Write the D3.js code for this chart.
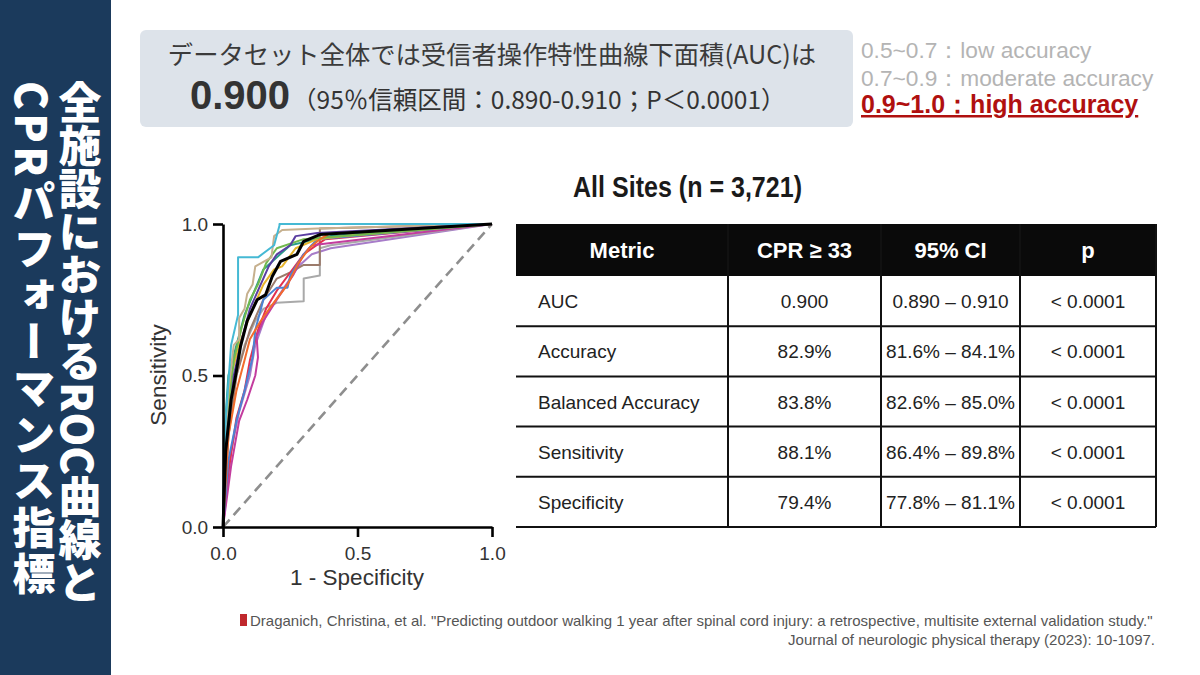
<!DOCTYPE html>
<html>
<head>
<meta charset="utf-8">
<script src="https://cdn.jsdelivr.net/npm/d3@7"></script>
<style>
  html, body { margin: 0; padding: 0; background: #fff; }
  svg { display: block; }
</style>
</head>
<body>
<svg id="canvas" width="1200" height="675"></svg>
<script>
// ---- data ----
let sideTitle = ['全施設におけるROC曲線と', 'CPRパフォーマンス指標']
let headline = 'データセット全体では受信者操作特性曲線下面積(AUC)は'
let aucValue = '0.900'
let aucDetail = '（95％信頼区間：0.890-0.910；P＜0.0001）'
let accuracyBands = ['0.5~0.7：low accuracy', '0.7~0.9：moderate accuracy', '0.9~1.0：high accuracy']
let tableTitle = 'All Sites (n = 3,721)'

let columns = ['Metric', 'CPR ≥ 33', '95% CI', 'p']
let metrics = ['AUC', 'Accuracy', 'Balanced Accuracy', 'Sensitivity', 'Specificity']
let cprValues = ['0.900', '82.9%', '83.8%', '88.1%', '79.4%']
let ciValues = ['0.890 – 0.910', '81.6% – 84.1%', '82.6% – 85.0%', '86.4% – 89.8%', '77.8% – 81.1%']
let pValues = ['< 0.0001', '< 0.0001', '< 0.0001', '< 0.0001', '< 0.0001']

let axisTicks = [0, 0.5, 1]

// one ROC curve per site: [1 - specificity, sensitivity]
let siteCyan = [[0,0],[0.01,0.35],[0.03,0.6],[0.056,0.70],[0.056,0.89],[0.13,0.89],[0.19,0.93],[0.21,0.995],[0.21,1],[1,1]]
let siteTan = [[0,0],[0.01,0.3],[0.02,0.45],[0.04,0.6],[0.06,0.62],[0.06,0.69],[0.08,0.72],[0.09,0.77],[0.11,0.8],[0.12,0.86],[0.14,0.87],[0.18,0.89],[0.19,0.96],[0.22,0.98],[0.35,0.985],[1,1]]
let siteGray = [[0,0],[0.02,0.3],[0.05,0.5],[0.08,0.6],[0.12,0.68],[0.15,0.72],[0.2,0.74],[0.3,0.745],[0.3,0.82],[0.36,0.83],[0.36,0.92],[0.4,0.93],[1,1]]
let siteBrown = [[0,0],[0.02,0.3],[0.05,0.5],[0.1,0.65],[0.15,0.75],[0.2,0.82],[0.25,0.84],[0.3,0.865],[0.36,0.865],[0.36,0.985],[1,1]]
let sitePurple = [[0,0],[0.01,0.25],[0.04,0.5],[0.07,0.62],[0.1,0.72],[0.13,0.78],[0.17,0.86],[0.2,0.9],[0.25,0.93],[0.27,0.96],[0.35,0.97],[1,1]]
let siteBlue = [[0,0],[0.02,0.22],[0.05,0.35],[0.08,0.45],[0.11,0.56],[0.12,0.65],[0.15,0.75],[0.2,0.79],[0.24,0.79],[0.25,0.83],[0.3,0.9],[0.35,0.95],[1,1]]
let siteOrange = [[0,0],[0.02,0.3],[0.05,0.45],[0.08,0.55],[0.1,0.62],[0.14,0.68],[0.18,0.73],[0.24,0.8],[0.28,0.87],[0.32,0.92],[0.36,0.95],[0.4,0.97],[1,1]]
let siteMagenta = [[0,0],[0.03,0.2],[0.06,0.35],[0.09,0.42],[0.12,0.5],[0.13,0.56],[0.125,0.63],[0.15,0.68],[0.2,0.75],[0.26,0.83],[0.3,0.9],[0.33,0.93],[1,1]]
let siteRed = [[0,0],[0.02,0.18],[0.05,0.36],[0.08,0.45],[0.1,0.55],[0.13,0.65],[0.16,0.72],[0.2,0.78],[0.25,0.84],[0.3,0.9],[0.38,0.95],[1,1]]
let siteGold = [[0,0],[0.01,0.35],[0.03,0.5],[0.06,0.6],[0.1,0.7],[0.15,0.8],[0.19,0.85],[0.22,0.86],[0.27,0.92],[0.35,0.95],[0.45,0.96],[1,1]]
let siteGreen = [[0,0],[0.01,0.3],[0.04,0.55],[0.07,0.66],[0.1,0.75],[0.13,0.8],[0.16,0.87],[0.2,0.92],[0.3,0.95],[1,1]]
let siteTeal = [[0,0],[0.005,0.3],[0.02,0.5],[0.05,0.6],[0.08,0.7],[0.15,0.85],[0.25,0.93],[0.4,0.96],[1,1]]
let siteLavender = [[0,0],[0.03,0.25],[0.06,0.38],[0.1,0.5],[0.12,0.6],[0.16,0.7],[0.22,0.78],[0.28,0.86],[0.33,0.9],[0.4,0.92],[1,1]]
let allSites = [[0,0],[0.01,0.25],[0.03,0.42],[0.047,0.5],[0.065,0.595],[0.09,0.68],[0.127,0.75],[0.158,0.766],[0.183,0.827],[0.214,0.877],[0.275,0.9],[0.3,0.943],[0.36,0.965],[1,1]]

let siteCurves = [siteTeal, siteLavender, siteGray, siteBrown, siteRed, siteMagenta, siteBlue, siteGold, siteGreen, siteOrange, siteTan, sitePurple, siteCyan]
let siteColors = ['#2a9d8a', '#a77cc9', '#a9a9a9', '#9b7b6b', '#e2304f', '#c33c9e', '#4b83d4', '#e6b42c', '#72b94e', '#f26b2b', '#c6b08e', '#5a3ea1', '#45b9d4']

let citation1 = 'Draganich, Christina, et al. "Predicting outdoor walking 1 year after spinal cord injury: a retrospective, multisite external validation study."'
let citation2 = 'Journal of neurologic physical therapy (2023): 10-1097.'

// ---- drawing ----
let canvas = d3.select('#canvas')
let latin = '"Liberation Sans", Arial, Helvetica, sans-serif'
let jp = '"Noto Sans CJK JP", "Liberation Sans", sans-serif'

// side bar
canvas.append('rect')
    .attr('x', 0).attr('y', 0)
    .attr('width', 111).attr('height', 675)
    .attr('fill', '#1b3a5c')

canvas.selectAll('.side-title')
    .data(sideTitle)
    .enter()
    .append('text')
    .attr('class', 'side-title')
    .attr('x', (d, i) => i === 0 ? 80 : 34)
    .attr('y', 81)
    .style('writing-mode', 'vertical-rl')
    .style('letter-spacing', (d, i) => i === 0 ? '0px' : '3.5px')
    .attr('font-family', jp)
    .attr('font-weight', 900)
    .attr('font-size', 43)
    .attr('fill', '#ffffff')
    .text((d) => d)

// headline box
canvas.append('rect')
    .attr('x', 140).attr('y', 30)
    .attr('width', 713).attr('height', 97)
    .attr('rx', 6)
    .attr('fill', '#dde3ea')

canvas.append('text')
    .attr('x', 492).attr('y', 64)
    .attr('text-anchor', 'middle')
    .attr('font-family', jp)
    .attr('font-size', 25.3)
    .attr('fill', '#3b3b3b')
    .text(headline)

let line2 = canvas.append('text')
    .attr('x', 190).attr('y', 109)
    .attr('fill', '#333333')
line2.append('tspan')
    .attr('font-family', latin)
    .attr('font-weight', 700)
    .attr('font-size', 40)
    .text(aucValue)
line2.append('tspan')
    .attr('dx', 2)
    .attr('font-family', jp)
    .attr('font-size', 24.5)
    .text(aucDetail)

// accuracy bands
canvas.selectAll('.band')
    .data(accuracyBands)
    .enter()
    .append('text')
    .attr('class', 'band')
    .attr('x', 861)
    .attr('y', (d, i) => 58 + i * 27.5)
    .attr('font-family', latin)
    .attr('font-size', (d, i) => i === 2 ? 25 : 22.7)
    .attr('font-weight', (d, i) => i === 2 ? 700 : 400)
    .attr('fill', (d, i) => i === 2 ? '#b0100f' : '#b4b4b4')
    .attr('text-decoration', (d, i) => i === 2 ? 'underline' : 'none')
    .text((d) => d)

// ROC chart
let xScale = d3.scaleLinear().domain([0, 1]).range([223, 492])
let yScale = d3.scaleLinear().domain([0, 1]).range([527, 224])

let roc = canvas.append('g')

roc.append('line')
    .attr('x1', xScale(0)).attr('y1', yScale(0))
    .attr('x2', xScale(1)).attr('y2', yScale(1))
    .attr('stroke', '#8e8e8e')
    .attr('stroke-width', 2.6)
    .attr('stroke-dasharray', '10,6')

let rocLine = d3.line()
    .x((d) => xScale(d[0]))
    .y((d) => yScale(d[1]))

roc.selectAll('.site')
    .data(siteCurves)
    .enter()
    .append('path')
    .attr('class', 'site')
    .attr('d', rocLine)
    .attr('fill', 'none')
    .attr('stroke', (d, i) => siteColors[i])
    .attr('stroke-width', 2)
    .attr('stroke-linejoin', 'round')

roc.append('path')
    .attr('d', rocLine(allSites))
    .attr('fill', 'none')
    .attr('stroke', '#000000')
    .attr('stroke-width', 3)
    .attr('stroke-linejoin', 'round')

let xAxis = d3.axisBottom(xScale)
    .tickValues(axisTicks)
    .tickFormat(d3.format('.1f'))
    .tickSize(10)
    .tickSizeOuter(0)
let yAxis = d3.axisLeft(yScale)
    .tickValues(axisTicks)
    .tickFormat(d3.format('.1f'))
    .tickSize(10)
    .tickSizeOuter(0)

let gx = roc.append('g')
    .attr('transform', 'translate(0,' + yScale(0) + ')')
    .call(xAxis)
let gy = roc.append('g')
    .attr('transform', 'translate(' + xScale(0) + ',0)')
    .call(yAxis)

;[gx, gy].forEach((g) => {
    g.select('.domain').attr('stroke', '#000').attr('stroke-width', 2.6)
    g.selectAll('.tick line').attr('stroke', '#000').attr('stroke-width', 2.6)
    g.selectAll('.tick text')
        .attr('font-family', latin)
        .attr('font-size', 19)
        .attr('fill', '#333')
})
gx.selectAll('.tick text').attr('dy', '1.05em')
gy.selectAll('.tick text').attr('dx', '-0.1em')

roc.append('text')
    .attr('x', 357).attr('y', 585)
    .attr('text-anchor', 'middle')
    .attr('font-family', latin)
    .attr('font-size', 22.5)
    .attr('fill', '#333')
    .text('1 - Specificity')

roc.append('text')
    .attr('transform', 'translate(166,375) rotate(-90)')
    .attr('text-anchor', 'middle')
    .attr('font-family', latin)
    .attr('font-size', 22.5)
    .attr('fill', '#333')
    .text('Sensitivity')

// table
canvas.append('text')
    .attr('x', 573).attr('y', 197)
    .attr('font-family', latin)
    .attr('font-weight', 700)
    .attr('font-size', 29)
    .attr('textLength', 229)
    .attr('lengthAdjust', 'spacingAndGlyphs')
    .attr('fill', '#1a1a1a')
    .text(tableTitle)

let colEdges = [516, 728, 881, 1020, 1156]
let headerTop = 224
let headerBottom = 276
let rowScale = d3.scaleBand()
    .domain(metrics)
    .range([headerBottom, 527])

let table = canvas.append('g')

table.append('rect')
    .attr('x', colEdges[0]).attr('y', headerTop)
    .attr('width', colEdges[4] - colEdges[0])
    .attr('height', headerBottom - headerTop)
    .attr('fill', '#0a0a0a')

table.selectAll('.head')
    .data(columns)
    .enter()
    .append('text')
    .attr('class', 'head')
    .attr('x', (d, i) => (colEdges[i] + colEdges[i + 1]) / 2)
    .attr('y', (headerTop + headerBottom) / 2 + 8)
    .attr('text-anchor', 'middle')
    .attr('font-family', latin)
    .attr('font-weight', 700)
    .attr('font-size', 22)
    .attr('fill', '#ffffff')
    .text((d) => d)

// horizontal rules
table.selectAll('.hrule')
    .data(metrics)
    .enter()
    .append('line')
    .attr('class', 'hrule')
    .attr('x1', colEdges[0]).attr('x2', colEdges[4])
    .attr('y1', (d) => rowScale(d) + rowScale.bandwidth())
    .attr('y2', (d) => rowScale(d) + rowScale.bandwidth())
    .attr('stroke', '#111')
    .attr('stroke-width', 2)

// vertical rules
table.selectAll('.vrule')
    .data(colEdges.slice(1))
    .enter()
    .append('line')
    .attr('class', 'vrule')
    .attr('x1', (d) => d).attr('x2', (d) => d)
    .attr('y1', headerTop).attr('y2', 527)
    .attr('stroke', '#111')
    .attr('stroke-width', 2)

let cellColumns = [metrics, cprValues, ciValues, pValues]
cellColumns.forEach((values, c) => {
    table.selectAll('.cell' + c)
        .data(values)
        .enter()
        .append('text')
        .attr('class', 'cell' + c)
        .attr('x', c === 0 ? colEdges[0] + 22 : (colEdges[c] + colEdges[c + 1]) / 2)
        .attr('y', (d, i) => rowScale(metrics[i]) + rowScale.bandwidth() / 2 + 7)
        .attr('text-anchor', c === 0 ? 'start' : 'middle')
        .attr('font-family', latin)
        .attr('font-size', 19)
        .attr('fill', '#222')
        .text((d) => d)
})

// citation
canvas.append('rect')
    .attr('x', 240).attr('y', 614)
    .attr('width', 7).attr('height', 12)
    .attr('fill', '#c0282d')

canvas.append('text')
    .attr('x', 250).attr('y', 626)
    .attr('font-family', latin)
    .attr('font-size', 15)
    .attr('fill', '#555')
    .text(citation1)

canvas.append('text')
    .attr('x', 1155).attr('y', 645)
    .attr('text-anchor', 'end')
    .attr('font-family', latin)
    .attr('font-size', 15)
    .attr('fill', '#555')
    .text(citation2)
</script>
</body>
</html>
